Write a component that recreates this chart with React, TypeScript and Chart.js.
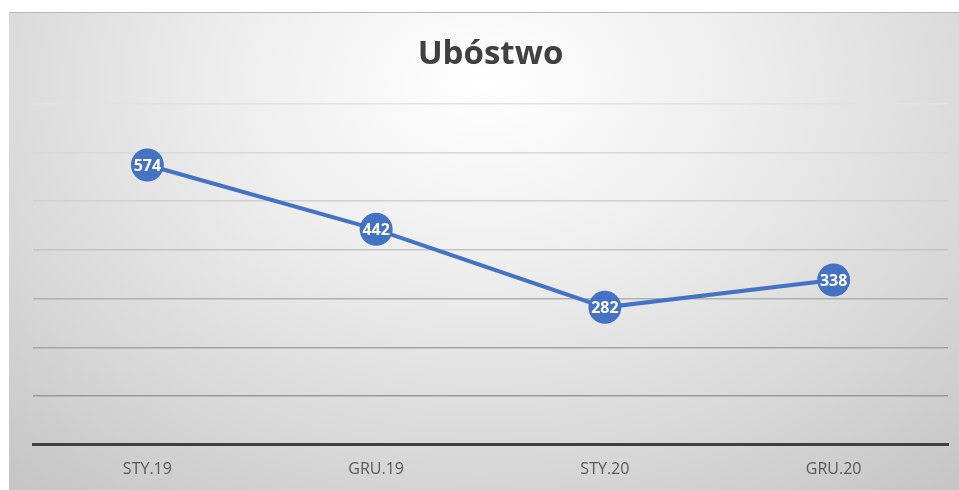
import React, { useEffect, useRef } from "react";
import { Chart, registerables } from "chart.js";

Chart.register(...registerables);

const categories = ["STY.19", "GRU.19", "STY.20", "GRU.20"];
const values = [574, 442, 282, 338];
const titleText = "Ubóstwo";
const yMin = 0;
const yMax = 700;
const yStep = 100;

const gridColors: Record<number, string> = {
  100: "#9a9a9a",
  200: "#a4a4a4",
  300: "#b0b0b0",
  400: "#c4c4c4",
  500: "#d0d0d0",
  600: "#d8d8d8",
  700: "#e2e2e2",
};

const labelPlugin = {
  id: "pointLabels",
  afterDatasetsDraw(chart: any) {
    const ctx = chart.ctx;
    const meta = chart.getDatasetMeta(0);
    ctx.save();
    ctx.fillStyle = "#ffffff";
    ctx.font = "bold 16px 'Open Sans', sans-serif";
    ctx.textAlign = "center";
    ctx.textBaseline = "middle";
    meta.data.forEach((pt: any, i: number) => {
      ctx.fillText(String(chart.data.datasets[0].data[i]), pt.x, pt.y + 1);
    });
    ctx.restore();
  },
};

export default function App() {
  const ref = useRef<HTMLCanvasElement | null>(null);
  useEffect(() => {
    if (!ref.current) return;
    const chart = new Chart(ref.current, {
      type: "line",
      data: {
        labels: categories,
        datasets: [
          {
            data: values,
            borderColor: "#4472C4",
            backgroundColor: "#4472C4",
            borderWidth: 4,
            pointRadius: 16.5,
            pointHoverRadius: 16.5,
            pointBackgroundColor: "#4472C4",
            pointBorderWidth: 0,
            tension: 0,
            clip: false,
          },
        ],
      },
      options: {
        animation: false,
        responsive: false,
        maintainAspectRatio: false,
        layout: { autoPadding: false, padding: { left: 24, right: 11, top: 0, bottom: 4 } },
        plugins: {
          legend: { display: false },
          tooltip: { enabled: false },
          title: {
            display: true,
            text: titleText,
            color: "#404040",
            font: { family: "'Open Sans', sans-serif", size: 33, weight: "bold" },
            padding: { top: 22, bottom: 29 },
          },
        },
        scales: {
          x: {
            offset: true,
            grid: { display: false },
            border: { display: true, color: "#404040", width: 3 },
            ticks: {
              color: "#595959",
              font: { family: "'Open Sans', sans-serif", size: 16 },
              padding: 7,
            },
            afterFit: (s: any) => {
              s.paddingLeft = 0;
              s.paddingRight = 0;
            },
          },
          y: {
            min: yMin,
            max: yMax,
            ticks: { display: false, stepSize: yStep },
            border: { display: false },
            grid: {
              drawTicks: false,
              lineWidth: (c: any) => (c.tick && c.tick.value === 0 ? 0 : 1.5),
              color: (c: any) => gridColors[c.tick ? c.tick.value : 0] || "#bbbbbb",
            },
          },
        },
      },
      plugins: [labelPlugin],
    });
    return () => chart.destroy();
  }, []);
  return (
    <div
      style={{
        position: "absolute",
        left: 9,
        top: 12,
        width: 950,
        height: 478,
        background:
          "radial-gradient(ellipse 75% 110% at 50% 15%, #ffffff 0%, #eeeeee 35%, #d6d6d6 75%, #c6c6c6 100%)",
        borderTop: "1px solid #b8b8b8",
        boxSizing: "border-box",
        overflow: "hidden",
      }}
    >
      <canvas ref={ref} width={950} height={477} style={{ display: "block" }} />
    </div>
  );
}
